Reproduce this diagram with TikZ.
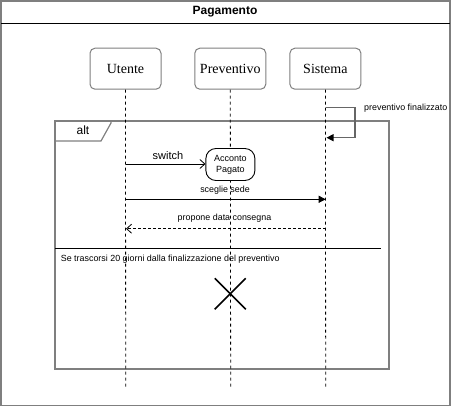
\documentclass[tikz,border=0pt]{standalone}
\usepackage{fontspec}
\setmainfont{Liberation Serif}
\newfontfamily\arial{Liberation Sans}
\usetikzlibrary{arrows.meta,calc}
\definecolor{frm}{HTML}{7F7F7F}
\tikzset{
  actor/.style={draw=frm, line width=1pt, rounded corners=5pt, minimum width=71pt, minimum height=41pt, inner sep=0pt, fill=white, font=\fontsize{14}{16}\selectfont},
  lifeline/.style={draw=black, line width=0.8pt, dash pattern=on 3pt off 3pt},
  msg/.style={draw=black, line width=0.9pt},
  openhead/.style={-{Straight Barb[length=5pt,width=9pt,line width=0.8pt]}},
  fillhead/.style={-{Triangle[length=7pt,width=7pt,color=black]}},
  lbl/.style={font=\arial\fontsize{8.9}{10}\selectfont, inner sep=0pt},
  statebox/.style={draw=black, line width=0.9pt, rounded corners=10pt, minimum width=49pt, minimum height=32pt, inner sep=0pt, align=center, font=\arial\fontsize{9}{11}\selectfont, fill=white},
}
\begin{document}
\begin{tikzpicture}[x=1pt,y=-1pt]
\useasboundingbox (0,0) rectangle (451,407);
% outer frame
\draw[draw=frm, line width=1.6pt] (0.8,0.8) rectangle (450,405.6);
\draw[black, line width=1pt] (0.8,23) -- (450,23);
\node[font=\arial\bfseries\fontsize{12}{14}\selectfont] (title) at (225,11.5) {Pagamento};

% actors
\node[actor] (ute) at (125.5,68.7) {Utente};
\node[actor] (pre) at (230.3,68.7) {Preventivo};
\node[actor] (sis) at (325.4,68.7) {Sistema};

% lifeline ends
\coordinate (uteE) at (125.7,387);
\coordinate (preE) at (230.7,389);
\coordinate (sisE) at (325.7,387);

% alt frame
\draw[draw=frm, line width=1.2pt] (55,121) rectangle (389,369);
\draw[draw=frm, line width=1.2pt] (55,141) -- (101,141) -- (111,123) -- (111,121);
\node[font=\arial\fontsize{12}{14}\selectfont, inner sep=0pt] (alt) at (83,130.5) {alt};

\draw[black, line width=1pt] (55,248.3) -- (381,248.3);

% lifelines
\draw[lifeline] (ute.south) -- (uteE);
\draw[lifeline] (pre.south) -- (preE);
\draw[lifeline] (sis.south) -- (sisE);

\node[lbl, anchor=west] (cond) at (60.7,259.5) {Se trascorsi 20 giorni dalla finalizzazione del preventivo};

% self message
\coordinate (sf1) at (325.7,107.3);
\coordinate (sf2) at (355,107.3);
\coordinate (sf3) at (355,137.7);
\coordinate (sf4) at (326.5,137.7);
\draw[draw=frm!80!black, line width=1.2pt, fillhead] (sf1) -- (sf2) -- (sf3) -- (sf4);
\node[lbl, anchor=west] (sflbl) at (364,108) {preventivo finalizzato};

% state
\node[statebox] (acc) at (230.4,164.5) {Acconto\\Pagato};
\coordinate (sw1) at (125.7,164);
\draw[msg, openhead] (sw1) -- (acc.west |- sw1);
\node[font=\arial\fontsize{11}{13}\selectfont, inner sep=0pt] (swl) at (168,155.7) {switch};

% sceglie sede
\coordinate (sc1) at (125.7,199.3);
\coordinate (sc2) at (325.7,199.3);
\draw[msg, fillhead] (sc1) -- (sc2);
\node[lbl] (scl) at (225,190) {sceglie sede};

% propone data consegna
\coordinate (pd1) at (325.7,228.7);
\coordinate (pd2) at (126,228.7);
\draw[msg, dash pattern=on 3pt off 2pt, openhead] (pd1) -- (pd2);
\node[lbl] (pdl) at (224.5,218.3) {propone data consegna};

% destroy
\coordinate (x0) at (230.2,293.8);
\draw[black, line width=1.6pt] ($(x0)+(-15.5,-15.5)$) -- ($(x0)+(15.5,15.5)$);
\draw[black, line width=1.6pt] ($(x0)+(-15.5,15.5)$) -- ($(x0)+(15.5,-15.5)$);
\end{tikzpicture}
\end{document}
